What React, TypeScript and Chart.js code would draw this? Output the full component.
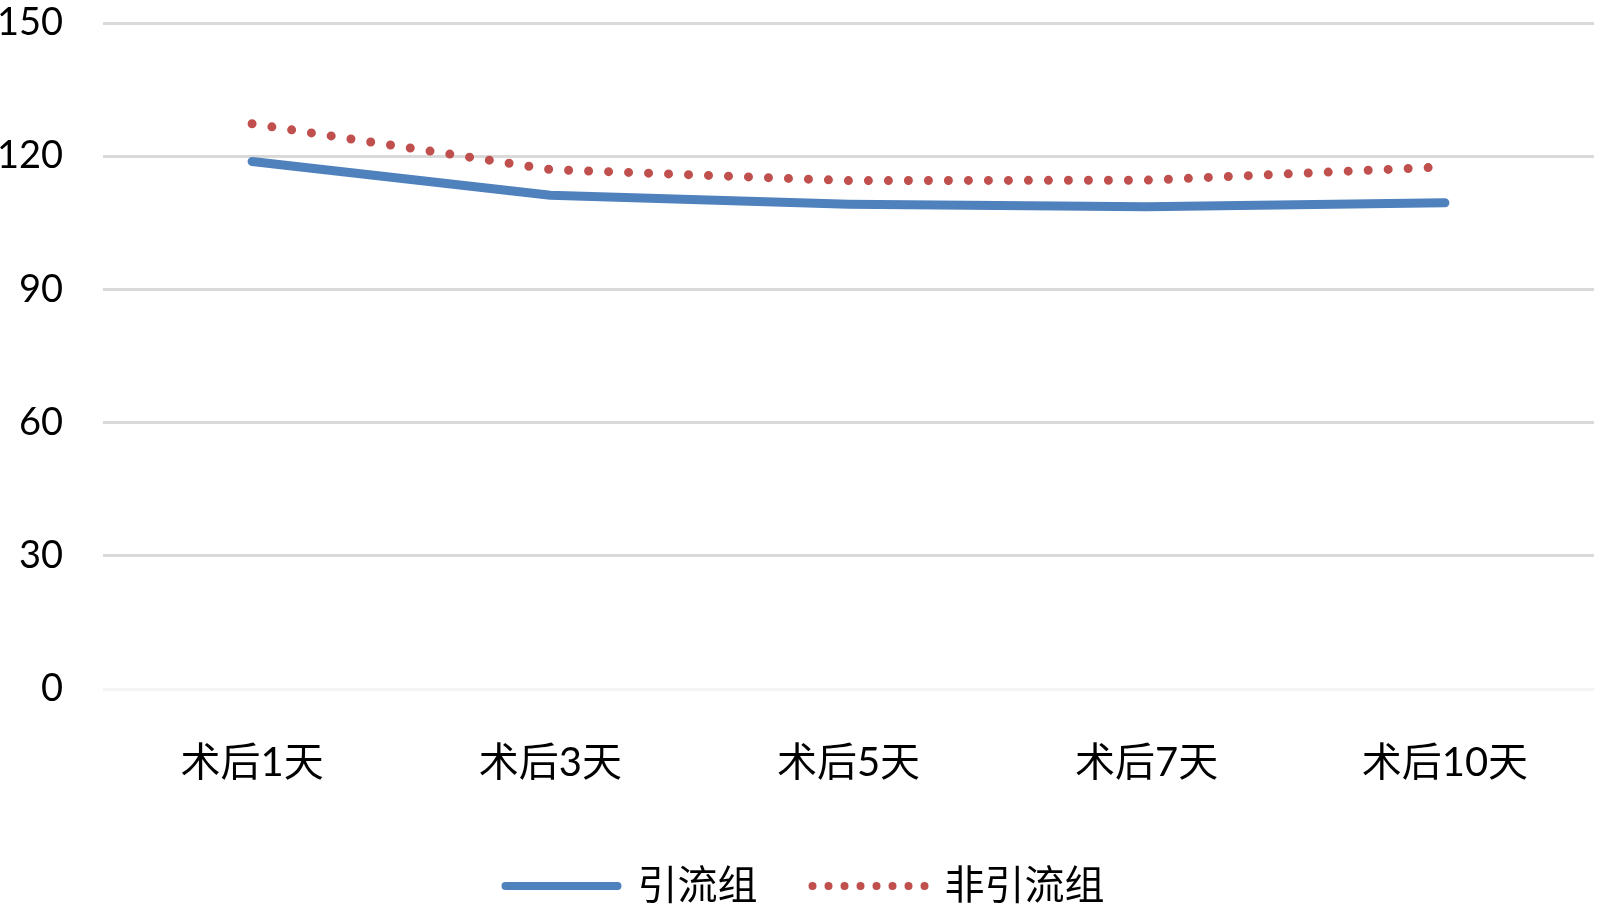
import React, { useEffect, useRef } from "react";
import { Chart, registerables } from "chart.js";

Chart.register(...registerables);

const categories = ["术后1天", "术后3天", "术后5天", "术后7天", "术后10天"];
const drainageGroup = [118.8, 111.2, 109.2, 108.6, 109.5];
const nonDrainageGroup = [127.3, 117.0, 114.5, 114.6, 117.6];
const seriesNames = ["引流组", "非引流组"];
const yMin = 0;
const yMax = 150;
const yStep = 30;

const FONT = "Lato, 'Noto Sans CJK SC', sans-serif";

const legendShift = {
  id: "legendShift",
  afterLayout(chart: any) {
    if (chart.legend) chart.legend.left += 16;
  },
};

export default function App() {
  const ref = useRef<HTMLCanvasElement>(null);

  useEffect(() => {
    if (!ref.current) return;
    const chart = new Chart(ref.current, {
      type: "line",
      data: {
        labels: categories,
        datasets: [
          {
            label: seriesNames[0],
            data: drainageGroup,
            borderColor: "#4f81bd",
            backgroundColor: "#4f81bd",
            borderWidth: 9,
            borderCapStyle: "round",
            borderJoinStyle: "round",
            pointRadius: 0,
            tension: 0,
            fill: false,
          },
          {
            label: seriesNames[1],
            data: nonDrainageGroup,
            borderColor: "#c0504d",
            backgroundColor: "#c0504d",
            borderWidth: 9,
            borderDash: [0, 20],
            borderCapStyle: "round",
            borderJoinStyle: "round",
            pointRadius: 0,
            tension: 0,
            fill: false,
          },
        ],
      },
      plugins: [legendShift],
      options: {
        responsive: false,
        animation: false,
        layout: { padding: { left: 0, right: 6, top: 0, bottom: 0 } },
        plugins: {
          tooltip: { enabled: false },
          legend: {
            position: "bottom",
            maxHeight: 106,
            labels: {
              boxWidth: 112,
              boxHeight: 0,
              padding: 55,
              color: "#000",
              font: { family: FONT, size: 40 },
              generateLabels: (c: any) => {
                const items = Chart.defaults.plugins.legend.labels.generateLabels(c);
                return items.map((it: any, i: number) => ({
                  ...it,
                  lineWidth: 8,
                  lineCap: "round",
                  lineDash: i === 1 ? [0, 16] : [],
                  fillStyle: "rgba(0,0,0,0)",
                }));
              },
            },
          },
        },
        scales: {
          x: {
            offset: true,
            grid: { display: false, drawTicks: false },
            border: { display: false },
            ticks: {
              color: "#000",
              padding: 50,
              font: { family: FONT, size: 40 },
              maxRotation: 0,
              autoSkip: false,
            },
            afterFit: (scale: any) => {
              scale.height = 122;
            },
          },
          y: {
            min: yMin,
            max: yMax,
            grid: {
              drawTicks: false,
              lineWidth: 3,
              color: (ctx: any) => (ctx.tick && ctx.tick.value === 0 ? "#f4f4f4" : "#d9d9d9"),
            },
            border: { display: false },
            ticks: {
              stepSize: yStep,
              color: "#000",
              padding: 40,
              font: { family: FONT, size: 38 },
            },
            afterFit: (scale: any) => {
              scale.width = 103;
              scale.paddingTop = 23;
              scale.paddingBottom = 23;
            },
          },
        },
      },
    });
    return () => chart.destroy();
  }, []);

  return (
    <div style={{ position: "absolute", left: 0, top: 0, width: 1600, height: 916, background: "#fff" }}>
      <canvas ref={ref} width={1600} height={916} />
    </div>
  );
}
